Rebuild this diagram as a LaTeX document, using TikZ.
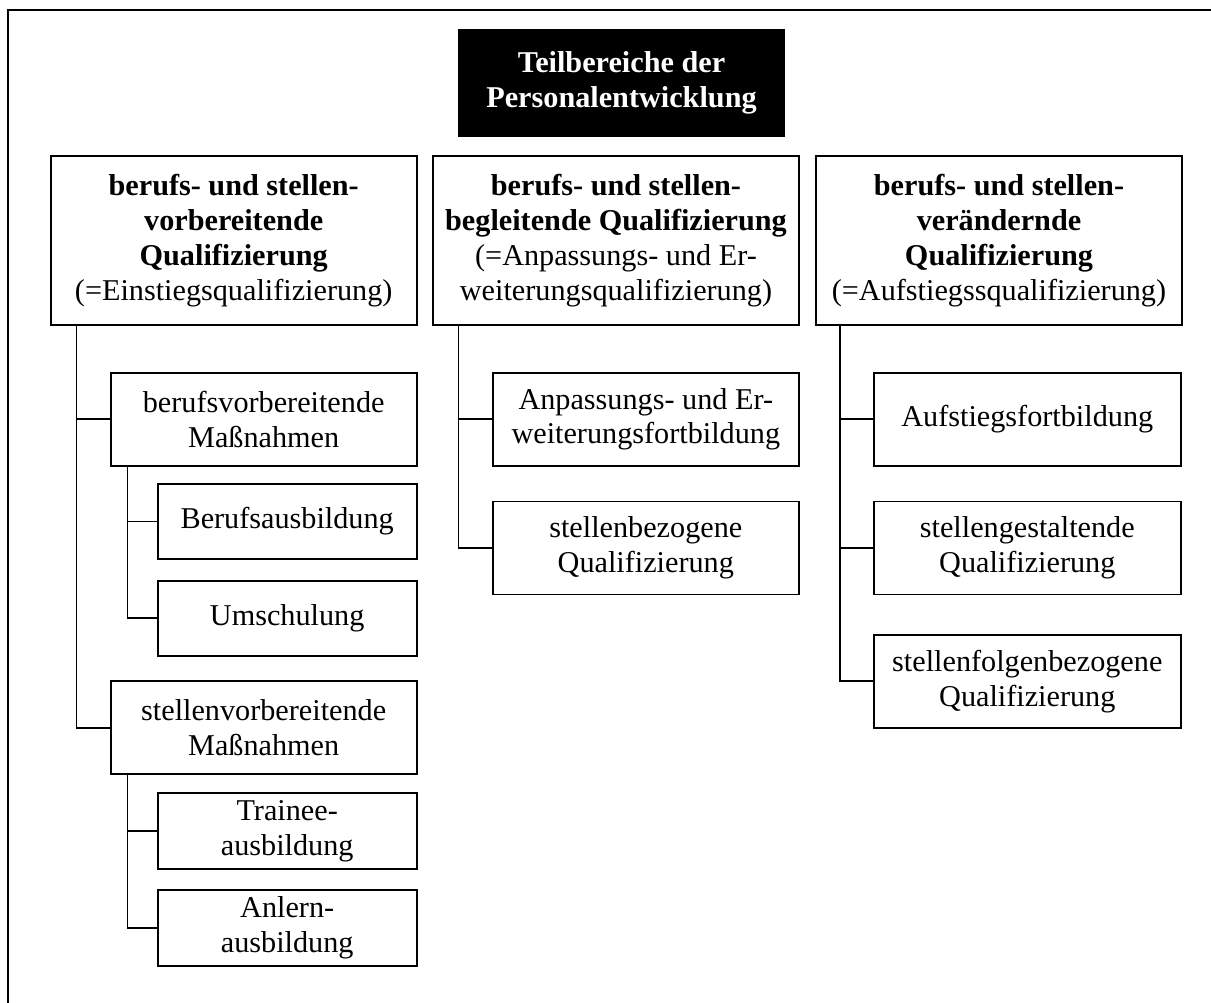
\documentclass[tikz,border=0pt]{standalone}
\usepackage{fontspec}
\setmainfont{Liberation Serif}
\usepackage{tikz}
\usetikzlibrary{positioning, calc}

\newcommand{\boxfont}{\fontsize{17.2}{19.8}\selectfont}

\tikzset{
	box/.style={draw, line width=1pt, align=center, inner sep=0pt, font=\boxfont},
	verbindung/.style={line width=1pt},
}

\begin{document}
\begin{tikzpicture}[x=0.02cm, y=-0.02cm]
					\useasboundingbox (0,0) rectangle (1211,1003);
					\draw[line width=1pt] (8,1003) -- (8,10) -- (1211,10);
					
					% Titel
					\node[fill=black, text=white, inner sep=0pt, align=center, font=\boxfont\bfseries,
						minimum width=6.54cm, minimum height=2.16cm] (T) at (621.5,83)
						{Teilbereiche der\\Personalentwicklung};
					
					% Hauptbereiche
					\node[box, minimum width=7.32cm, minimum height=3.38cm] (L) at (233.7,240.5)
						{\textbf{berufs- und stellen-}\\\textbf{vorbereitende}\\\textbf{Qualifizierung}\\ (=Einstiegsqualifizierung)};
					\node[box, minimum width=7.32cm, minimum height=3.38cm] (M) at (616,240.5)
						{\textbf{berufs- und stellen-}\\\textbf{begleitende Qualifizierung}\\ (=Anpassungs- und Er-\\weiterungsqualifizierung)};
					\node[box, minimum width=7.32cm, minimum height=3.38cm] (R) at (999,240.5)
						{\textbf{berufs- und stellen-}\\\textbf{verändernde}\\\textbf{Qualifizierung}\\ (=Aufstiegssqualifizierung)};
					
					% Linke Spalte
					\node[box, minimum width=6.12cm, minimum height=1.86cm] (L1) at (263.7,419.2)
						{berufsvorbereitende\\Maßnahmen};
					\node[box, minimum width=5.18cm, minimum height=1.5cm] (L11) at (287.2,521.5)
						{Berufsausbildung};
					\node[box, minimum width=5.18cm, minimum height=1.5cm] (L12) at (287.2,618.3)
						{Umschulung};
					\node[box, minimum width=6.12cm, minimum height=1.86cm] (L2) at (263.7,727.7)
						{stellenvorbereitende\\Maßnahmen};
					\node[box, minimum width=5.18cm, minimum height=1.52cm] (L21) at (287.2,831.3)
						{Trainee-\\ausbildung};
					\node[box, minimum width=5.18cm, minimum height=1.52cm] (L22) at (287.2,928)
						{Anlern-\\ausbildung};
					
					% Mittlere Spalte
					\node[box, minimum width=6.12cm, minimum height=1.86cm] (M1) at (645.8,419.2)
						{Anpassungs- und Er-\\weiterungsfortbildung};
					\node[box, minimum width=6.12cm, minimum height=1.86cm] (M2) at (645.8,548)
						{stellenbezogene\\Qualifizierung};
					
					% Rechte Spalte
					\node[box, minimum width=6.14cm, minimum height=1.86cm] (R1) at (1027.3,419.2)
						{Aufstiegsfortbildung};
					\node[box, minimum width=6.14cm, minimum height=1.86cm] (R2) at (1027.3,548)
						{stellengestaltende\\Qualifizierung};
					\node[box, minimum width=6.14cm, minimum height=1.86cm] (R3) at (1027.3,681.3)
						{stellenfolgenbezogene\\Qualifizierung};
					
					% Stammlinien
					\coordinate (sL) at ($(L.south west)+(26.6,0)$);
					\coordinate (sL1) at ($(L1.south west)+(17.6,0)$);
					\coordinate (sL2) at ($(L2.south west)+(17.6,0)$);
					\coordinate (sM) at ($(M.south west)+(26.3,0)$);
					\coordinate (sR) at ($(R.south west)+(24.7,0)$);
					
					% Linien
					\draw[verbindung] (sL) |- (L1.west);
					\draw[verbindung] (sL) |- (L2.west);
					\draw[verbindung] (sL1) |- (L11.west);
					\draw[verbindung] (sL1) |- (L12.west);
					\draw[verbindung] (sL2) |- (L21.west);
					\draw[verbindung] (sL2) |- (L22.west);
					\draw[verbindung] (sM) |- (M1.west);
					\draw[verbindung] (sM) |- (M2.west);
					\draw[verbindung] (sR) |- (R1.west);
					\draw[verbindung] (sR) |- (R2.west);
					\draw[verbindung] (sR) |- (R3.west);
				\end{tikzpicture}
\end{document}
